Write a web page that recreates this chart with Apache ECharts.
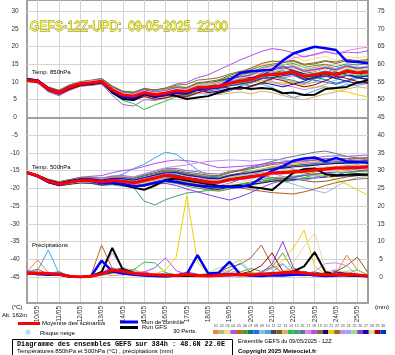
<!DOCTYPE html>
<html>
<head>
<meta charset="utf-8">
<script src="https://cdn.jsdelivr.net/npm/echarts@6/dist/echarts.min.js"></script>
<style>
  html, body { margin: 0; padding: 0; background: #fff; }
  #chart { width: 395px; height: 355px; }
</style>
</head>
<body>
<div id="chart"></div>
<script>
// échéances (pas de 12h) du run 12Z du 09/05
const times = ['09/05 12','10/05 00','10/05 12','11/05 00','11/05 12','12/05 00','12/05 12','13/05 00','13/05 12',
  '14/05 00','14/05 12','15/05 00','15/05 12','16/05 00','16/05 12','17/05 00','17/05 12','18/05 00','18/05 12',
  '19/05 00','19/05 12','20/05 00','20/05 12','21/05 00','21/05 12','22/05 00','22/05 12','23/05 00','23/05 12',
  '24/05 00','24/05 12','25/05 00','25/05 12']

// couleurs des 30 perturbations
const pertColors = ['#f08838','#a8c078','#f0e078','#a060e0','#c86020','#609828','#008080','#2868f0','#90b8e0','#40a8e8',
  '#404860','#806020','#d8b068','#20c840','#40a080','#607890','#f080f0','#b050f0','#807030','#200070',
  '#f0d000','#b06020','#c090f0','#a0a0ff','#a0e080','#8040e0','#2000a0','#e8d8a8','#a00000','#0030d0']

// Temp. 850hPa
const mean850 = [10.5,10.2,8.0,7.0,8.5,9.5,9.8,10.2,7.8,6.3,6.0,7.0,6.4,6.8,7.5,7.3,8.4,8.5,8.8,9.6,10.2,10.6,11.8,12.0,12.3,12.8,11.5,12.0,12.6,12.0,13.0,12.5,12.8]
const ctrl850 = [10.6,10.4,8.2,7.0,8.6,9.4,9.6,10.0,7.5,5.8,5.5,6.8,6.0,6.5,7.0,7.2,8.0,8.2,8.5,10.5,12.5,13.0,13.2,13.4,16.0,18.0,19.0,19.9,19.5,19.0,15.8,15.6,15.3]
const gfs850 = [10.8,10.5,7.8,7.2,8.3,9.5,9.4,10.3,7.0,5.2,4.9,6.5,5.8,6.8,6.0,5.2,5.6,6.0,7.0,8.0,8.5,8.0,8.3,8.0,6.8,7.0,6.3,6.4,8.0,8.3,8.6,9.8,10.5]
const perts850 = [
  [10.8,10.5,8.4,7.6,8.9,9.8,10.3,10.9,8.6,7.2,6.8,8.1,7.5,7.9,8.8,8.2,9.6,9.3,10.1,11.0,11.8,12.5,13.1,13.9,14.2,14.6,13.4,14.1,14.8,13.6,14.4,13.9,14.3],
  [10.2,9.8,7.5,6.4,7.8,9.0,9.4,9.8,7.1,5.5,4.9,6.0,5.2,5.6,6.1,6.4,7.2,7.4,8.6,9.9,11.2,12.0,12.6,11.8,10.6,10.1,9.2,10.0,11.4,12.2,13.6,13.0,12.4],
  [10.6,10.4,8.1,7.3,8.7,9.7,9.6,10.5,8.2,6.9,6.5,7.4,6.2,7.3,8.0,7.9,9.2,9.6,10.4,11.2,12.4,13.6,14.8,15.5,16.2,17.4,15.9,16.6,17.2,16.0,17.1,16.8,17.3],
  [10.1,9.7,7.2,6.1,7.6,8.8,9.0,9.4,6.2,3.6,3.2,5.0,4.8,5.5,6.6,6.9,8.0,8.4,8.6,9.0,9.8,10.0,11.0,11.3,11.1,11.8,10.6,11.0,11.7,11.2,12.0,11.6,11.9],
  [10.7,10.3,8.3,7.2,8.6,9.6,10.1,10.6,8.0,6.6,6.4,7.3,6.9,7.2,7.7,7.6,8.9,8.8,9.1,10.3,10.9,11.0,12.4,12.9,13.5,14.0,12.8,13.3,13.9,13.2,14.1,13.6,14.0],
  [10.9,10.6,8.6,7.7,9.2,10.1,10.5,11.0,8.9,7.4,7.2,8.0,7.8,8.1,8.6,8.5,9.5,9.9,10.2,11.4,12.1,12.6,14.0,14.6,14.8,15.2,14.1,14.6,15.0,14.3,15.1,14.8,15.2],
  [10.5,10.1,7.9,6.9,8.2,9.2,9.5,9.9,7.6,6.1,5.7,6.4,6.0,6.2,6.7,6.3,7.4,8.4,9.6,10.4,9.8,8.9,9.4,10.8,12.6,13.4,12.2,11.4,10.6,9.6,10.4,11.6,12.9],
  [10.4,10.0,7.8,6.8,8.3,9.3,9.9,10.1,7.4,5.8,5.4,6.6,5.8,6.0,6.9,6.8,7.6,7.2,6.8,7.4,8.8,10.6,12.4,13.8,14.6,13.2,11.5,10.4,10.0,9.3,10.2,11.0,11.8],
  [10.3,10.0,7.7,6.7,8.1,9.1,9.3,9.7,7.3,5.6,5.2,6.2,5.7,6.4,7.0,6.6,7.5,7.9,9.2,10.6,11.8,11.4,10.6,9.8,9.2,9.9,9.4,10.8,12.4,13.6,14.8,14.2,13.6],
  [10.7,10.4,8.2,7.2,8.7,9.6,10.0,10.5,8.1,6.5,6.3,7.2,6.6,7.0,7.9,7.6,8.7,8.6,8.5,9.0,9.2,9.0,9.4,8.4,7.0,5.6,6.4,7.5,8.6,8.2,9.4,9.0,9.6],
  [10.4,10.1,7.9,6.9,8.4,9.3,9.7,10.0,7.7,6.2,5.9,6.9,6.3,6.7,7.4,7.2,8.3,9.1,10.4,11.0,10.2,9.6,10.8,12.4,13.2,12.0,10.6,10.9,11.8,12.8,12.2,11.2,10.6],
  [10.6,10.3,8.2,7.1,8.8,9.7,10.0,10.4,8.1,6.8,6.6,7.6,7.0,7.4,8.2,8.4,9.8,10.1,10.6,11.8,12.8,13.9,15.2,15.9,15.6,16.1,15.0,15.4,16.0,15.6,16.4,16.0,16.3],
  [10.2,9.9,7.6,6.6,7.9,8.9,9.3,9.6,7.0,5.4,5.1,6.3,5.4,5.9,6.4,6.0,7.1,6.6,6.4,6.8,7.2,6.6,7.4,7.0,6.2,5.4,5.0,5.8,6.6,7.2,8.0,8.6,8.2],
  [10.3,9.9,7.6,6.5,8.0,9.1,9.2,9.6,6.8,4.8,3.9,2.2,3.5,4.6,5.8,6.1,7.0,7.8,8.2,9.1,9.6,10.4,11.3,11.0,11.6,12.2,10.9,11.4,12.0,11.5,12.3,11.7,12.1],
  [10.5,10.2,8.1,7.0,8.5,9.4,9.8,10.3,7.9,6.4,6.1,7.1,6.5,6.9,7.7,7.4,8.6,8.7,9.0,9.9,10.6,11.0,12.2,12.5,12.8,13.3,12.0,12.5,13.1,12.4,13.5,13.0,13.3],
  [10.3,10.0,7.8,6.8,8.2,9.2,9.6,10.0,7.5,5.9,5.6,6.7,6.1,6.5,7.2,7.0,8.1,7.4,7.9,9.0,10.8,12.2,13.0,12.2,11.0,10.4,9.6,10.9,12.6,13.8,14.6,13.7,12.9],
  [10.6,10.2,8.0,7.0,8.5,9.5,9.8,10.3,7.9,6.4,6.1,7.1,6.5,6.9,7.6,7.4,8.5,8.7,9.2,10.2,11.2,12.0,13.6,14.4,15.4,16.8,17.2,17.6,18.4,18.0,18.8,19.4,19.8],
  [10.6,10.2,8.0,7.1,8.6,9.6,9.9,10.4,8.2,7.0,6.9,8.0,7.6,8.2,9.4,9.9,11.2,12.0,13.4,14.8,16.2,17.4,18.6,19.4,19.0,18.2,17.0,17.8,18.6,17.9,18.4,18.2,18.8],
  [10.9,10.5,8.4,7.4,9.1,10.0,10.4,10.9,8.7,7.3,7.0,8.2,7.7,8.3,9.1,9.3,10.5,10.8,11.2,12.2,13.0,13.4,14.5,15.0,15.4,15.9,14.7,15.1,15.8,15.2,16.0,15.5,15.9],
  [10.4,10.0,7.9,6.9,8.3,9.3,9.6,10.1,7.6,6.0,5.5,6.5,5.9,6.3,7.0,6.7,7.8,8.6,9.8,10.9,11.6,11.2,11.9,13.4,14.2,13.1,12.4,13.0,13.9,12.8,12.1,11.3,10.8],
  [10.6,10.3,8.1,7.1,8.6,9.5,9.9,10.3,7.9,6.3,6.0,7.0,6.4,6.8,7.4,7.2,8.3,8.2,8.4,9.0,9.4,9.6,10.3,10.0,9.6,9.9,8.7,8.4,8.8,7.5,7.2,6.4,5.8],
  [10.5,10.2,8.0,7.0,8.4,9.4,9.7,10.2,7.8,6.3,6.0,7.0,6.4,6.8,7.5,7.3,8.4,8.6,8.9,9.7,10.4,10.8,12.0,12.3,12.6,13.1,11.8,12.3,12.9,12.3,13.4,12.8,13.1],
  [10.1,9.8,7.4,6.3,7.7,8.8,9.1,9.5,6.9,5.2,4.7,5.8,5.0,5.4,6.0,5.7,6.7,6.6,7.6,8.8,9.9,10.8,11.2,10.2,9.1,8.6,7.8,8.4,9.3,10.6,11.8,12.6,13.1],
  [10.8,10.5,8.3,7.4,9.0,9.9,10.3,10.7,8.4,6.9,6.7,7.7,7.2,7.6,8.3,8.1,9.3,9.5,9.8,10.8,11.5,12.1,13.4,13.6,14.0,14.5,13.2,13.7,14.3,13.7,14.7,14.1,14.4],
  [10.4,10.1,7.8,6.8,8.3,9.2,9.5,10.0,7.5,6.0,5.8,6.8,6.2,6.6,7.3,7.1,8.2,9.2,10.1,9.6,9.3,10.4,12.2,13.6,14.8,15.6,14.0,12.8,12.2,11.4,12.0,13.2,14.0],
  [10.8,10.4,8.5,7.5,9.0,9.9,10.2,10.8,8.5,7.0,6.7,7.8,7.1,7.5,8.4,8.0,9.0,9.2,9.6,10.6,11.4,11.9,13.2,13.5,13.9,14.3,13.0,13.5,14.1,13.4,14.5,13.9,14.2],
  [10.3,9.9,7.7,6.6,8.0,9.0,9.4,9.8,7.2,5.7,5.3,6.4,5.6,6.1,6.7,6.5,7.7,7.0,7.4,8.2,8.0,8.8,9.8,9.3,8.6,9.4,10.2,11.4,12.2,11.0,10.2,9.6,9.9],
  [10.7,10.4,8.3,7.3,8.8,9.8,10.2,10.6,8.3,6.8,6.5,7.5,6.9,7.3,8.1,7.9,9.1,9.2,9.6,10.5,11.1,11.6,12.9,13.1,13.4,13.9,12.6,13.1,13.7,13.0,14.0,13.4,13.7],
  [10.2,9.9,7.5,6.5,7.9,8.9,9.2,9.6,7.0,5.3,4.9,5.9,5.1,5.5,6.2,5.9,6.9,7.8,8.8,8.2,7.9,8.6,9.8,11.0,10.4,9.4,8.6,9.2,10.4,11.6,11.0,10.1,9.6],
  [10.5,10.2,8.0,7.0,8.5,9.4,9.8,10.2,7.8,6.3,6.0,7.0,6.4,6.8,7.5,7.3,8.0,8.1,8.3,8.9,9.4,9.9,11.0,11.2,11.8,12.2,10.8,11.2,11.6,11.0,11.8,11.4,11.6]
]

// Temp. 500hPa
const mean500 = [-15.5,-16.5,-18.0,-18.8,-18.3,-17.8,-17.8,-18.2,-17.8,-18.0,-18.5,-17.8,-17.1,-16.3,-16.8,-17.2,-17.8,-18.3,-18.3,-17.6,-17.2,-16.8,-16.3,-15.7,-15.6,-15.4,-15.2,-14.8,-14.6,-14.3,-14.3,-14.2,-14.0]
const ctrl500 = [-15.6,-16.6,-18.2,-19.0,-18.2,-17.6,-17.9,-18.6,-18.4,-18.8,-19.4,-19.2,-18.4,-17.8,-18.2,-18.8,-19.2,-19.4,-19.5,-19.6,-19.6,-19.0,-17.0,-15.0,-13.8,-12.2,-11.6,-11.3,-12.4,-11.4,-12.4,-12.6,-12.8]
const gfs500 = [-15.5,-16.4,-17.8,-18.6,-18.0,-17.5,-17.6,-18.2,-18.5,-19.0,-19.8,-20.4,-19.2,-17.6,-17.2,-17.8,-18.3,-18.8,-19.3,-19.5,-19.2,-19.6,-20.0,-20.5,-18.0,-15.6,-14.6,-14.4,-16.0,-16.3,-16.2,-16.0,-16.2]
const perts500 = [
  [-15.4,-16.3,-17.6,-18.4,-17.9,-17.3,-17.2,-17.5,-16.9,-16.8,-17.2,-16.4,-15.6,-14.9,-15.2,-15.8,-16.1,-16.6,-16.9,-16.2,-15.7,-15.1,-14.6,-13.9,-13.5,-13.2,-12.9,-12.6,-12.3,-12.1,-12.2,-12.0,-11.8],
  [-15.6,-16.7,-18.3,-19.2,-18.8,-18.3,-18.4,-18.9,-18.6,-19.1,-19.6,-19.0,-18.6,-18.0,-18.4,-19.1,-19.6,-20.2,-20.6,-20.0,-19.5,-19.2,-18.6,-18.0,-17.6,-17.4,-17.0,-16.8,-16.4,-16.2,-16.0,-15.9,-15.6],
  [-15.6,-16.6,-18.1,-18.9,-18.4,-17.9,-17.9,-18.3,-17.9,-18.1,-18.6,-17.9,-17.3,-16.5,-16.6,-17.3,-17.7,-18.3,-18.5,-17.7,-17.3,-16.9,-16.0,-15.0,-14.2,-13.6,-13.2,-13.6,-14.2,-14.8,-15.2,-15.0,-14.6],
  [-15.3,-16.2,-17.4,-18.1,-17.5,-16.9,-16.8,-17.1,-16.5,-16.4,-16.8,-16.0,-15.2,-14.4,-14.4,-15.0,-15.3,-15.8,-16.0,-15.2,-14.8,-14.2,-13.6,-13.0,-12.6,-12.2,-11.8,-11.4,-11.0,-10.8,-11.0,-10.8,-10.6],
  [-15.6,-16.6,-18.2,-19.0,-18.5,-18.0,-18.0,-18.5,-18.1,-18.3,-18.8,-18.2,-17.6,-16.8,-16.9,-17.6,-18.0,-17.2,-16.4,-15.6,-15.0,-15.4,-16.2,-17.0,-17.6,-17.0,-16.2,-15.4,-14.8,-14.2,-13.6,-13.4,-13.8],
  [-15.7,-16.8,-18.4,-19.3,-18.9,-18.5,-18.6,-19.1,-18.8,-19.2,-19.8,-19.2,-18.8,-18.2,-18.6,-19.4,-19.9,-20.5,-20.8,-20.2,-19.6,-19.0,-18.4,-17.6,-17.2,-16.8,-16.4,-16.0,-15.7,-15.5,-15.4,-15.3,-15.1],
  [-15.4,-16.3,-17.6,-18.3,-17.7,-17.1,-17.0,-17.3,-16.8,-16.9,-17.3,-16.5,-15.9,-15.1,-15.2,-15.9,-16.3,-16.9,-17.1,-16.3,-15.9,-15.5,-15.0,-14.4,-14.1,-13.9,-13.6,-13.3,-13.0,-12.8,-12.7,-12.6,-12.4],
  [-15.6,-16.6,-18.1,-18.9,-18.5,-18.0,-18.1,-18.5,-18.2,-18.4,-19.0,-18.3,-17.8,-17.0,-17.2,-17.9,-18.4,-19.0,-19.3,-18.6,-17.4,-16.2,-15.2,-14.4,-14.0,-14.6,-15.6,-16.4,-16.8,-16.2,-15.4,-14.6,-14.2],
  [-15.4,-16.4,-17.8,-18.6,-18.1,-17.6,-17.7,-18.0,-17.6,-17.8,-18.2,-17.5,-16.8,-16.0,-16.2,-16.9,-17.3,-17.9,-18.1,-17.4,-17.0,-16.7,-16.6,-17.2,-18.0,-18.8,-19.8,-20.6,-21.3,-19.6,-17.8,-17.0,-16.6],
  [-15.5,-16.4,-17.8,-18.5,-17.9,-17.4,-17.3,-17.6,-16.8,-16.0,-14.4,-13.2,-11.4,-9.8,-10.4,-12.6,-14.8,-16.4,-17.0,-16.4,-15.8,-15.3,-15.0,-14.6,-14.4,-14.0,-13.8,-13.4,-13.2,-13.0,-13.1,-12.9,-12.7],
  [-15.5,-16.5,-17.9,-18.6,-18.1,-17.6,-17.5,-17.8,-17.3,-17.4,-17.8,-17.0,-16.3,-15.5,-15.5,-16.2,-16.6,-17.1,-17.2,-16.3,-15.8,-15.3,-14.8,-14.2,-13.9,-13.6,-13.3,-13.0,-12.7,-12.5,-12.4,-12.3,-12.1],
  [-15.5,-16.6,-18.1,-19.0,-18.6,-18.2,-18.3,-18.8,-18.5,-18.8,-19.3,-18.7,-18.2,-17.5,-17.7,-18.5,-19.0,-19.6,-19.9,-19.2,-18.9,-18.5,-18.0,-17.5,-17.2,-17.4,-17.8,-18.2,-18.0,-17.4,-16.8,-16.4,-16.2],
  [-15.4,-16.4,-17.8,-18.5,-18.0,-17.4,-17.4,-17.8,-17.3,-17.5,-17.9,-17.2,-16.6,-15.8,-15.9,-16.6,-17.0,-17.6,-17.8,-17.0,-16.6,-16.2,-15.8,-15.2,-15.0,-14.8,-14.6,-14.3,-14.0,-13.8,-13.7,-13.6,-13.4],
  [-15.6,-16.7,-18.3,-19.1,-18.7,-18.2,-18.3,-18.7,-18.4,-18.6,-19.1,-18.5,-17.9,-17.1,-17.2,-17.9,-18.3,-18.9,-18.4,-17.6,-16.8,-16.4,-16.8,-17.6,-18.2,-17.8,-17.0,-16.2,-15.6,-15.2,-15.4,-15.8,-16.0],
  [-15.5,-16.6,-18.2,-19.0,-18.6,-18.4,-18.6,-19.2,-19.0,-19.4,-19.8,-23.6,-24.7,-23.2,-22.2,-21.3,-21.0,-20.6,-20.0,-19.4,-18.8,-18.2,-17.6,-17.0,-16.8,-16.6,-16.2,-16.0,-15.6,-15.4,-15.2,-15.0,-14.8],
  [-15.5,-16.5,-17.9,-18.6,-18.0,-17.4,-17.3,-17.6,-17.1,-17.2,-17.6,-16.9,-16.2,-15.4,-15.5,-16.1,-16.4,-16.8,-16.6,-15.6,-14.8,-14.0,-13.2,-12.4,-11.6,-11.0,-10.4,-9.8,-9.5,-10.2,-11.0,-11.4,-11.8],
  [-15.5,-16.5,-18.1,-18.9,-18.4,-17.9,-17.9,-18.3,-17.9,-18.2,-18.7,-18.0,-17.4,-16.6,-16.7,-17.4,-17.8,-18.4,-18.6,-17.9,-17.5,-17.1,-16.7,-16.1,-15.9,-15.7,-15.5,-15.2,-14.9,-14.7,-14.6,-14.5,-14.3],
  [-15.4,-16.4,-17.7,-18.3,-17.6,-16.9,-16.6,-16.4,-15.6,-15.0,-14.6,-13.8,-13.0,-12.4,-12.0,-12.2,-12.6,-13.4,-14.2,-14.0,-13.8,-13.6,-13.2,-12.8,-12.6,-12.4,-12.2,-11.9,-11.6,-11.8,-12.0,-11.6,-11.4],
  [-15.3,-16.2,-17.5,-18.2,-17.6,-17.0,-16.9,-17.2,-16.7,-16.8,-17.1,-16.3,-15.6,-14.8,-14.8,-15.5,-15.8,-16.3,-16.4,-15.5,-15.0,-14.5,-13.9,-13.3,-13.0,-12.7,-12.4,-12.1,-11.8,-11.6,-11.6,-11.5,-11.3],
  [-15.7,-16.8,-18.4,-19.2,-18.8,-18.4,-18.5,-19.0,-18.7,-19.0,-19.6,-19.0,-18.5,-17.8,-18.1,-18.9,-19.4,-20.0,-20.3,-19.6,-19.3,-18.9,-18.5,-18.0,-17.8,-17.6,-17.4,-17.1,-16.8,-16.6,-16.5,-16.4,-16.2],
  [-15.5,-16.5,-18.0,-18.7,-18.2,-17.7,-17.7,-18.1,-17.7,-17.9,-18.4,-17.7,-17.1,-16.3,-16.4,-17.1,-17.5,-18.0,-18.2,-17.4,-17.0,-16.6,-16.2,-15.6,-15.4,-15.2,-15.4,-15.8,-16.4,-17.4,-18.8,-20.4,-21.9],
  [-15.6,-16.7,-18.2,-19.0,-18.6,-18.1,-18.2,-18.6,-18.3,-18.6,-19.0,-18.4,-17.8,-17.2,-17.4,-18.2,-18.8,-19.4,-19.8,-19.4,-19.8,-20.4,-20.8,-21.2,-21.4,-21.6,-21.0,-20.2,-19.2,-18.4,-17.8,-17.4,-17.2],
  [-15.4,-16.3,-17.7,-18.4,-17.8,-17.2,-17.1,-17.3,-16.8,-16.7,-16.8,-15.9,-15.0,-14.2,-13.8,-13.4,-12.8,-12.4,-12.2,-12.0,-12.1,-12.3,-12.0,-11.8,-12.0,-12.4,-12.6,-12.8,-12.4,-12.2,-12.4,-12.6,-12.4],
  [-15.5,-16.4,-17.9,-18.6,-18.0,-17.5,-17.4,-17.8,-17.3,-17.5,-17.9,-17.1,-16.5,-15.7,-15.8,-16.5,-16.8,-17.4,-17.5,-16.7,-16.3,-15.9,-15.4,-15.8,-16.6,-17.2,-17.6,-17.2,-16.4,-15.6,-15.0,-14.6,-14.6],
  [-15.6,-16.6,-18.1,-18.9,-18.4,-18.0,-18.0,-18.4,-18.0,-18.3,-18.7,-18.1,-17.5,-16.7,-16.9,-17.6,-18.0,-18.2,-17.6,-16.8,-16.0,-15.2,-14.6,-14.2,-14.6,-15.4,-16.0,-16.4,-16.2,-15.6,-14.8,-14.2,-13.8],
  [-15.5,-16.5,-18.0,-18.8,-18.5,-18.2,-18.4,-18.9,-18.7,-19.0,-19.4,-19.0,-18.8,-18.6,-19.2,-20.2,-21.0,-21.8,-22.6,-23.3,-22.4,-21.2,-19.8,-18.6,-17.8,-17.0,-16.4,-16.0,-15.6,-15.4,-15.2,-15.0,-14.8],
  [-15.4,-16.4,-17.8,-18.5,-17.9,-17.4,-17.3,-17.7,-17.2,-17.3,-17.7,-17.0,-16.3,-15.6,-15.6,-16.3,-16.7,-17.2,-17.3,-16.5,-16.0,-15.6,-15.1,-14.5,-14.3,-14.0,-13.8,-13.5,-13.2,-13.0,-12.9,-12.8,-12.6],
  [-15.6,-16.7,-18.2,-19.1,-18.6,-18.2,-18.2,-18.7,-18.3,-18.6,-19.1,-18.5,-17.9,-17.2,-17.4,-18.1,-18.6,-19.2,-19.4,-18.7,-18.3,-17.6,-16.6,-15.6,-14.8,-14.2,-14.0,-14.4,-15.0,-15.4,-15.2,-14.8,-14.4],
  [-15.5,-16.5,-18.0,-18.7,-18.2,-17.7,-17.7,-18.1,-17.7,-17.9,-18.3,-17.6,-17.0,-16.2,-16.3,-17.0,-17.4,-18.0,-18.1,-17.3,-16.9,-16.5,-16.1,-15.5,-15.3,-15.1,-14.9,-14.6,-14.3,-14.1,-14.0,-13.9,-13.7],
  [-15.5,-16.4,-17.9,-18.7,-18.2,-17.6,-17.6,-18.0,-17.6,-17.8,-18.3,-17.6,-17.0,-16.2,-16.3,-17.0,-17.4,-18.0,-18.2,-17.4,-17.0,-16.6,-16.2,-15.6,-15.4,-15.2,-15.0,-14.7,-14.4,-14.2,-14.1,-14.0,-13.8]
]

// Précipitations (mm)
const meanPr = [1.0,1.1,1.0,0.8,0.2,0.0,0.2,0.9,2.0,1.6,1.0,0.8,0.6,0.5,0.4,0.8,0.4,0.3,0.5,0.6,0.7,0.6,0.8,1.0,1.2,1.4,1.1,0.8,0.6,0.6,0.7,0.6,0.3]
const ctrlPr = [1.2,0.9,0.6,0.8,0.2,0.0,0.2,4.6,1.6,1.0,0.6,0.4,0.3,0.2,0.4,0.8,6.2,1.0,1.2,4.3,0.8,0.4,0.3,0.5,0.4,0.6,0.8,0.5,0.3,0.4,0.6,0.4,0.2]
const gfsPr = [1.0,0.8,0.7,0.6,0.1,0.0,0.2,1.4,8.2,2.0,0.8,0.5,0.3,0.2,0.3,0.4,0.3,0.5,0.6,0.8,0.6,0.5,0.8,1.0,0.8,1.6,3.0,7.0,1.4,0.6,0.4,0.3,0.2]
const pertsPr = [
  [1.5,4.8,1.2,0.8,0.2,0,0.3,0.8,0.4,0.6,1.2,1.5,0.6,0.2,0.4,0.2,0,0.3,0.5,0.8,0.4,0.2,0.6,0.8,0.5,1.2,0.8,0.4,0.6,1.0,6.2,2.0,0.4],
  [1.2,0.8,1.0,1.6,0.2,0,0.1,0.6,1.8,2.4,1.2,0.8,0.4,0.2,0.1,0.3,0.2,0.1,0.4,0.6,0.3,0.2,0.4,0.5,0.8,0.6,0.3,0.5,0.4,0.2,0.5,0.3,0.2],
  [0.8,1.0,0.6,1.2,0.4,0,0.2,0.5,1.2,2.8,1.6,0.6,0.3,0.2,0.5,0.6,0.4,0.8,1.2,0.6,0.4,0.3,0.5,0.8,1.6,2.4,1.2,0.6,0.4,0.8,0.6,0.4,0.3],
  [1.8,1.2,0.6,0.9,0.1,0,0.2,1.4,2.6,1.8,0.8,0.6,0.4,1.2,0.6,0.2,0.3,0.2,0.4,0.2,0.6,0.4,0.3,0.6,0.8,0.4,0.6,0.3,1.2,2.0,0.8,0.4,0.2],
  [1.4,2.2,0.8,0.6,0.2,0,0.4,9.0,2.4,1.6,0.8,0.6,0.4,0.3,0.2,0.3,0.5,0.4,0.6,0.8,0.5,0.3,0.4,0.6,0.8,1.0,0.6,0.4,0.5,0.6,1.2,0.8,0.4],
  [0.9,0.6,1.2,0.8,0.2,0,0.1,0.8,1.6,1.2,0.6,0.4,0.3,0.2,0.3,0.4,0.2,0.5,0.8,0.6,1.4,2.4,1.6,2.8,6.8,1.8,0.8,0.5,0.4,0.6,0.5,0.3,0.2],
  [1.1,0.7,0.8,1.0,0.3,0,0.2,0.6,1.4,2.0,1.0,0.6,0.4,0.2,0.2,0.3,0.3,0.2,0.5,0.4,0.6,0.8,0.5,0.6,0.8,1.2,1.6,0.8,0.4,0.3,0.6,0.4,0.2],
  [1.6,1.2,0.8,1.4,0.2,0,0.1,0.9,2.2,1.4,0.7,1.2,0.8,0.4,0.6,1.4,0.8,0.4,0.3,0.6,0.5,0.4,0.8,1.0,0.6,0.5,0.8,0.6,0.4,0.5,0.3,0.6,0.3],
  [0.7,0.9,1.4,0.6,0.1,0,0.2,0.5,1.0,1.6,2.0,0.8,0.4,0.6,0.3,0.2,0.4,0.6,0.3,0.2,0.4,0.3,0.5,0.4,0.6,0.8,0.5,0.4,0.3,0.2,0.4,0.3,0.2],
  [1.3,1.8,7.6,1.0,0.2,0,0.3,1.0,1.8,2.6,1.2,0.8,0.5,0.3,0.4,0.6,0.4,0.3,0.8,1.6,4.0,1.2,0.6,1.4,3.6,1.0,0.6,0.4,0.6,0.8,0.5,0.4,0.3],
  [1.0,0.8,0.6,1.2,0.3,0,0.2,0.7,1.4,1.0,0.8,0.6,0.3,0.2,0.3,0.4,0.5,0.3,0.4,0.6,0.4,0.6,1.2,0.8,0.5,0.6,0.9,1.4,0.8,0.4,0.5,0.3,0.2],
  [1.2,1.0,0.8,0.6,0.1,0,0.3,1.2,2.0,1.4,0.6,0.4,0.2,0.4,0.6,0.3,0.2,0.4,0.6,0.5,0.8,0.4,0.6,0.7,0.5,0.8,1.0,0.6,0.8,1.6,3.2,5.6,1.2],
  [0.8,1.2,1.0,0.8,0.2,0,0.2,0.6,1.2,1.8,2.2,1.0,0.5,0.3,0.2,0.4,0.3,0.6,1.2,2.0,1.0,0.5,0.8,0.6,1.4,2.6,1.2,0.8,0.6,0.4,0.6,0.5,0.3],
  [1.4,0.9,1.1,0.7,0.2,0,0.1,0.8,1.2,1.6,2.0,4.2,4.0,1.2,0.6,0.4,0.3,0.5,0.8,1.0,0.6,0.4,0.6,0.8,1.0,0.7,0.5,0.4,0.6,0.8,0.6,0.4,0.3],
  [1.0,0.6,0.9,1.1,0.2,0,0.2,0.7,1.5,1.2,0.8,0.5,0.4,0.3,0.2,0.2,0.4,0.3,0.5,0.4,0.6,0.5,0.4,0.6,0.8,0.5,0.7,0.6,0.4,0.6,0.8,2.0,0.6],
  [0.9,1.1,0.7,0.9,0.1,0,0.3,0.6,1.1,1.4,1.0,0.7,0.3,0.2,0.3,0.5,0.3,0.2,0.4,0.5,0.3,0.6,0.5,0.4,0.7,0.9,0.6,0.5,0.3,0.4,0.5,0.3,0.2],
  [1.2,0.8,1.0,0.8,0.2,0,0.2,1.6,6.8,2.2,1.0,0.6,0.4,0.3,0.4,0.3,0.6,0.4,1.0,0.8,0.5,0.6,0.8,1.2,0.9,0.6,0.8,0.5,0.4,0.6,0.4,0.3,0.2],
  [1.5,1.0,0.8,1.2,0.3,0,0.2,0.8,1.6,1.2,0.8,1.4,2.6,5.4,1.8,0.6,0.4,0.3,0.6,0.8,0.6,0.4,0.9,0.8,0.6,0.5,0.7,0.4,0.6,0.5,0.4,0.3,0.2],
  [1.1,0.7,0.9,0.6,0.2,0,0.1,0.5,1.3,1.6,1.1,0.7,0.4,0.2,0.3,0.4,0.2,0.3,0.5,0.6,0.8,1.2,0.8,0.5,0.4,0.6,0.5,0.8,1.2,0.8,0.5,0.4,0.3],
  [1.3,0.9,0.7,1.0,0.2,0,0.2,0.9,1.9,2.4,1.4,0.8,0.5,0.3,0.2,0.3,0.4,0.5,0.3,0.4,0.5,0.4,0.6,0.5,0.4,0.6,0.8,1.0,0.6,0.4,0.5,0.3,0.2],
  [0.9,1.3,0.8,0.6,0.1,0,0.2,0.5,1.0,1.2,0.8,0.6,0.8,2.0,5.6,23.0,4.2,0.8,0.5,0.4,0.6,0.8,1.2,2.4,4.6,8.2,13.2,3.0,0.8,0.6,0.5,0.4,0.3],
  [1.0,0.8,1.1,0.9,0.2,0,0.3,0.7,1.4,1.1,0.7,0.5,0.3,0.2,0.4,0.3,0.5,0.6,1.4,2.8,3.6,5.4,9.0,3.2,1.2,0.8,0.6,0.5,0.4,0.6,0.8,0.5,0.3],
  [1.2,1.0,0.6,0.8,0.2,0,0.2,0.6,1.2,1.5,0.9,0.6,0.4,0.3,0.2,0.4,0.3,0.4,0.6,0.5,0.4,0.6,0.8,0.6,0.9,1.2,0.8,1.6,3.8,4.0,3.2,0.6,0.3],
  [1.4,0.9,0.8,1.1,0.3,0,0.1,1.2,2.4,1.6,0.8,0.6,0.4,0.3,0.5,0.4,0.3,0.5,0.8,1.4,0.8,0.6,1.6,2.4,3.8,1.0,0.6,0.5,0.4,0.6,0.5,0.3,0.2],
  [0.8,0.7,1.0,0.7,0.2,0,0.2,0.6,1.3,1.8,1.2,0.8,0.5,0.3,0.2,0.3,0.6,1.2,2.6,3.4,4.8,1.6,0.6,0.5,0.7,0.8,0.6,0.5,0.8,1.2,1.6,2.0,0.4],
  [1.1,1.2,0.9,0.8,0.2,0,0.3,0.8,1.5,1.3,0.9,0.6,0.4,0.2,0.3,0.5,0.4,0.3,0.6,0.8,0.5,0.7,1.2,3.6,10.0,2.6,0.8,0.6,0.5,0.4,0.6,0.4,0.3],
  [1.3,0.8,0.7,1.0,0.2,0,0.2,0.7,1.6,1.9,1.1,0.7,0.5,0.3,0.4,0.3,0.5,0.4,0.3,0.5,0.6,0.4,0.5,0.6,0.8,0.7,0.5,0.6,0.9,1.4,1.0,0.6,0.3],
  [0.9,1.0,0.8,0.6,0.1,0,0.2,0.5,1.1,1.4,0.9,0.6,0.4,0.2,0.3,0.4,0.3,0.5,0.6,0.8,1.0,0.6,0.5,0.8,1.6,4.0,8.6,12.4,2.2,0.8,0.6,0.4,0.3],
  [1.2,0.9,1.0,0.9,0.2,0,0.2,0.8,1.4,1.2,0.8,0.5,0.3,0.3,0.4,0.3,0.4,0.5,0.8,0.6,0.9,1.6,3.2,6.8,1.6,0.8,0.6,0.5,0.4,0.6,0.5,0.4,0.2],
  [1.0,0.8,0.7,0.9,0.2,0,0.2,0.6,1.2,1.4,1.0,0.7,0.4,0.3,0.2,0.4,0.3,0.4,0.5,0.6,0.5,0.4,0.6,0.7,0.5,0.6,0.7,0.8,0.6,0.5,0.4,0.3,0.2]
]

const chart = echarts.init(document.getElementById('chart'), null, { renderer: 'canvas' })

const isDay = (idx) => idx % 2 === 1
const FONT = 'Liberation Sans'

const series = []
const addLine = (data, yIdx, color, width, z) => {
  series.push({
    type: 'line', xAxisIndex: 0, yAxisIndex: yIdx, data: data,
    showSymbol: false, silent: true, z: z,
    lineStyle: { color: color, width: width },
    itemStyle: { color: color },
  })
}

perts850.forEach((d, i) => addLine(d, 0, pertColors[i], 1, 2))
perts500.forEach((d, i) => addLine(d, 0, pertColors[i], 1, 2))
pertsPr.forEach((d, i) => addLine(d, 1, pertColors[i], 1, 2))
addLine(gfs850, 0, '#000000', 2, 3)
addLine(gfs500, 0, '#000000', 2, 3)
addLine(gfsPr, 1, '#000000', 2, 3)
addLine(ctrl850, 0, '#0000ff', 2.5, 4)
addLine(ctrl500, 0, '#0000ff', 2.5, 4)
addLine(ctrlPr, 1, '#0000ff', 2.5, 4)
addLine(mean850, 0, '#ff0000', 3, 5)
addLine(mean500, 0, '#ff0000', 3, 5)
addLine(meanPr, 1, '#ff0000', 3, 5)

// séparation des panneaux au niveau 0
series[series.length - 3].markLine = {
  silent: true, symbol: 'none', label: { show: false },
  lineStyle: { color: '#a0a0a0', width: 2, type: 'solid' },
  data: [{ yAxis: 0 }],
}

// petits textes
const txt = (x, y, text, size, opts = {}) => ({
  type: 'text', x: x, y: y, silent: true, z: 100,
  scaleX: opts.scaleX || 1,
  style: {
    text: text, fontSize: size, fontFamily: opts.family || FONT,
    fontWeight: opts.weight || 'normal', fill: opts.color || '#000',
    stroke: opts.stroke, lineWidth: opts.lw || 0,
    align: opts.align || 'left', textAlign: opts.align || 'left',
    verticalAlign: 'middle', textVerticalAlign: 'middle',
  },
})

const graphics = [
  txt(30, 27, 'GEFS-12Z-UPD:  09-05-2025  22:00', 14, { color: '#ffff30', stroke: '#707018', lw: 0.8, scaleX: 0.87 }),
  txt(32, 72, 'Temp. 850hPa', 6),
  txt(32, 167, 'Temp. 500hPa', 6),
  txt(32, 245, 'Précipitations', 6),
  txt(17, 307, '(°C)', 6, { align: 'center' }),
  txt(2, 315, 'Alt. 162m', 6),
  txt(382, 307, '(mm)', 6, { align: 'center' }),
  { type: 'line', silent: true, shape: { x1: 18, y1: 323.5, x2: 40, y2: 323.5 }, style: { stroke: '#ff0000', lineWidth: 3 } },
  txt(42, 323.5, 'Moyenne des scénarios', 6),
  { type: 'line', silent: true, shape: { x1: 120, y1: 322, x2: 138, y2: 322 }, style: { stroke: '#0000ff', lineWidth: 3 } },
  txt(142, 322, 'Run de contrôle', 6),
  { type: 'line', silent: true, shape: { x1: 120, y1: 327.5, x2: 138, y2: 327.5 }, style: { stroke: '#000000', lineWidth: 3 } },
  txt(142, 327.5, 'Run GFS', 6),
  txt(28, 333, '❄', 8, { align: 'center', color: '#7cc8f8', family: 'DejaVu Sans' }),
  txt(40, 333, 'Risque neige', 6),
  txt(173, 331.5, '30 Perts.', 6),
  { type: 'rect', silent: true, shape: { x: 12.5, y: 339.5, width: 220, height: 20 }, style: { fill: '#fff', stroke: '#000', lineWidth: 1 } },
  txt(17, 344, 'Diagramme des ensembles GEFS sur 384h : 48.6N 22.0E', 6.8, { family: 'Liberation Mono', weight: 'bold' }),
  txt(17, 351.5, 'Températures 850hPa et 500hPa (°C) , précipitations (mm)', 6),
  txt(238, 341.5, 'Ensemble GEFS du 09/05/2025 - 12Z', 5.6),
  txt(238, 351, 'Copyright 2025 Meteociel.fr', 6, { weight: 'bold' }),
]
pertColors.forEach((c, i) => {
  const x = 213 + i * 5.77
  graphics.push({ type: 'rect', silent: true, shape: { x: x, y: 330, width: 5.77, height: 4 }, style: { fill: c } })
  graphics.push(txt(x + 2.9, 326, String(i + 1).padStart(2, '0'), 3.6, { align: 'center', color: '#444' }))
})

const option = {
  animation: false,
  backgroundColor: '#ffffff',
  textStyle: { fontFamily: FONT },
  grid: [
    { left: 27, right: 27, top: 11, bottom: 78, containLabel: false },
    { left: 27, right: 27, top: -5, bottom: 52, containLabel: false, show: true, borderColor: '#a0a0a0', borderWidth: 2 },
  ],
  xAxis: [
    { type: 'category', gridIndex: 0, data: times, boundaryGap: false, show: false },
    {
      type: 'category', gridIndex: 1, data: times, boundaryGap: false,
      axisLine: { show: true, lineStyle: { color: '#a0a0a0', width: 2 } },
      axisTick: { show: false },
      axisLabel: {
        rotate: 90, margin: 3, fontSize: 6.5, color: '#333', fontFamily: FONT,
        interval: (idx) => isDay(idx),
        formatter: (v) => v.slice(0, 5),
      },
      splitLine: { show: true, interval: (idx) => isDay(idx), lineStyle: { color: '#d4d4d4', width: 1 } },
    },
  ],
  yAxis: [
    {
      type: 'value', gridIndex: 0, min: -45, max: 30, interval: 5, position: 'left',
      axisLine: { show: false }, axisTick: { show: false },
      axisLabel: { fontSize: 6.5, color: '#333', align: 'center', margin: 12, fontFamily: FONT },
      splitLine: { show: true, lineStyle: { color: '#d4d4d4', width: 1 } },
    },
    {
      type: 'value', gridIndex: 0, min: 0, max: 75, interval: 5, position: 'right',
      axisLine: { show: false }, axisTick: { show: false },
      axisLabel: { fontSize: 6.5, color: '#333', align: 'center', margin: 13, fontFamily: FONT },
      splitLine: { show: false },
    },
    { type: 'value', gridIndex: 1, min: 0, max: 1, show: false, splitLine: { show: false } },
  ],
  series: series,
  graphic: graphics,
}

chart.setOption(option)
</script>
</body>
</html>
